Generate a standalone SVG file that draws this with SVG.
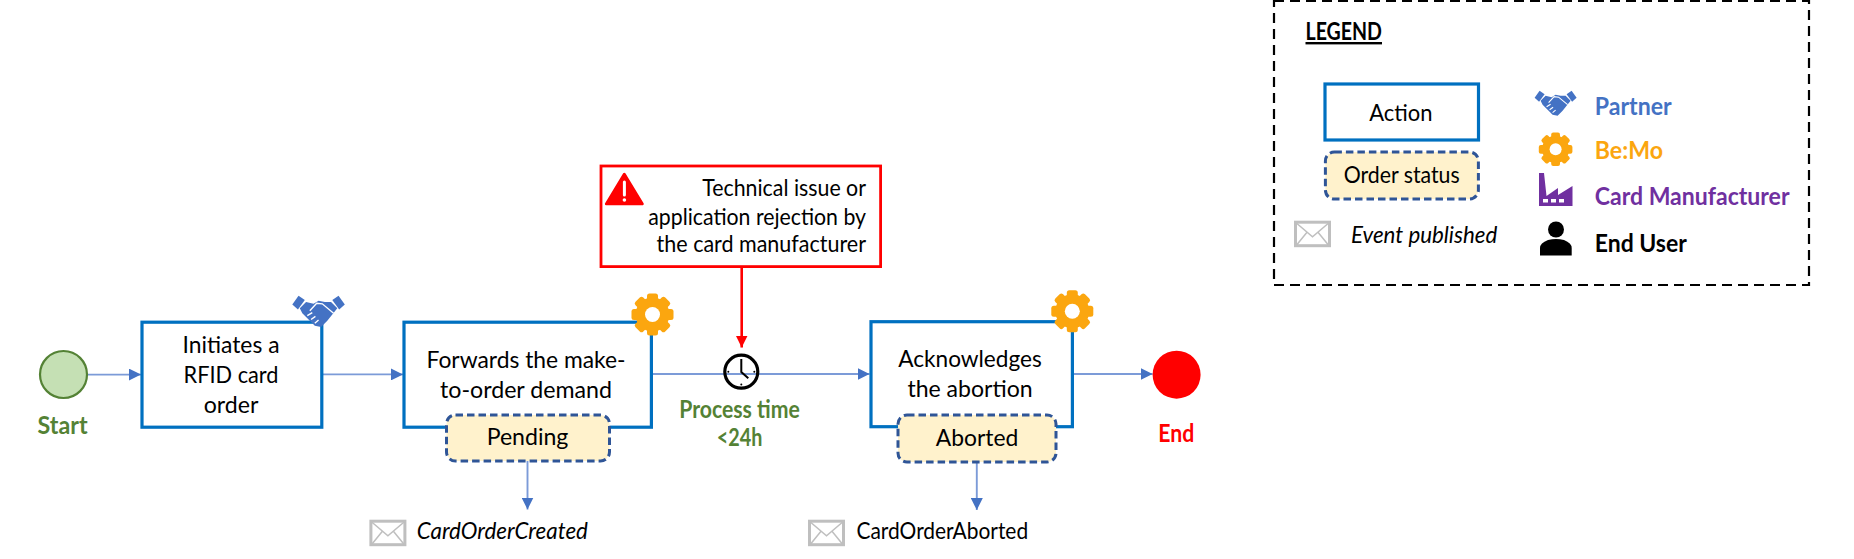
<svg xmlns="http://www.w3.org/2000/svg" width="1854" height="559" viewBox="0 0 1854 559">
<style>
text{font-family:"Lato","Open Sans","Liberation Sans",sans-serif;font-size:23px;fill:#000;transform:translateY(1px)}
.m{text-anchor:middle}
.r{text-anchor:end}
.b{font-weight:700;font-size:24px}
.i{font-style:italic}
.action{fill:#fff;stroke:#0070C0;stroke-width:3.2}
.status{fill:#FFF2CC;stroke:#2F5597;stroke-width:3;stroke-dasharray:7.5 4}
.flow{fill:none;stroke:#7C9BD8;stroke-width:1.9}
.green{fill:#548235}
</style>
<defs>
<marker id="ah" markerUnits="userSpaceOnUse" markerWidth="12" markerHeight="12" refX="12" refY="6" orient="auto"><path d="M0 0L12 6L0 12Z" fill="#4472C4"/></marker>
<marker id="ahr" markerUnits="userSpaceOnUse" markerWidth="12" markerHeight="12" refX="12" refY="6" orient="auto"><path d="M0 0L12 6L0 12Z" fill="#FF0000"/></marker>
<g id="gear"><g fill="#FBA60F"><circle r="17"/><rect x="-5.5" y="-21" width="11" height="42" rx="2.5"/><rect x="-5.5" y="-21" width="11" height="42" rx="2.5" transform="rotate(45)"/><rect x="-5.5" y="-21" width="11" height="42" rx="2.5" transform="rotate(90)"/><rect x="-5.5" y="-21" width="11" height="42" rx="2.5" transform="rotate(135)"/></g><circle r="7.5" fill="#fff"/></g>
<g id="env" fill="none" stroke="#BFBFBF"><rect x="1.5" y="1.5" width="34" height="23.5" stroke-width="3" fill="#fff"/><path d="M2 2L18.5 16L35 2M2 25L13 11.5M35 25L24 11.5" stroke-width="1.5"/></g>
<g id="shake"><g fill="#4472C4"><path d="M0 7L5 0L10 3.5L4.5 11Z"/><path d="M42 7L37 0L32 3.5L37.5 11Z"/><path d="M6 10L11 5L17 6.5L21 4L26 5L31 5L36 10L28 20L23 25L18 24L8 14Z"/></g><path d="M14 12L19.5 6L24 6.5L33 14M12 16L16 13.5M15 19L18.5 16.5M18 22L21 19.5" fill="none" stroke="#fff" stroke-width="1.1"/></g>
</defs>
<g id="connectors">
<path class="flow" d="M88 374.6H141" marker-end="url(#ah)"/>
<path class="flow" d="M323 374.4H403" marker-end="url(#ah)"/>
<path class="flow" d="M652 374H869.5" marker-end="url(#ah)"/>
<path class="flow" d="M1073 374H1152.6" marker-end="url(#ah)"/>
<path class="flow" d="M527.5 461V509.5" marker-end="url(#ah)"/>
<path class="flow" d="M976.8 462V510" marker-end="url(#ah)"/>
<path d="M741.7 267V347.5" fill="none" stroke="#FF0000" stroke-width="2.6" marker-end="url(#ahr)"/>
</g>
<g id="start"><circle cx="63.5" cy="374.5" r="23.5" fill="#C5E0B4" stroke="#548235" stroke-width="2.2"/><text class="m b green" x="62.6" y="433.3" textLength="50" lengthAdjust="spacingAndGlyphs">Start</text></g>
<g id="action-initiate"><rect class="action" x="142" y="322.2" width="179.8" height="105"/><text class="m" x="231" y="352" textLength="97" lengthAdjust="spacingAndGlyphs">Initiates a</text><text class="m" x="231" y="381.8" textLength="95" lengthAdjust="spacingAndGlyphs">RFID card</text><text class="m" x="231" y="411.7" textLength="54.7" lengthAdjust="spacingAndGlyphs">order</text><use href="#shake" transform="translate(292.3 295.7) scale(1.25)"/></g>
<g id="action-forward"><rect class="action" x="404" y="322.2" width="247.4" height="105"/><use href="#gear" x="652.5" y="314.5"/><text class="m" x="526" y="366.7" textLength="199" lengthAdjust="spacingAndGlyphs">Forwards the make-</text><text class="m" x="526" y="396.7" textLength="172" lengthAdjust="spacingAndGlyphs">to-order demand</text></g>
<g id="status-pending"><rect class="status" x="446.5" y="415" width="163" height="46" rx="9"/><text class="m" x="527.5" y="444.3" textLength="81.7" lengthAdjust="spacingAndGlyphs">Pending</text></g>
<g id="event-created"><use href="#env" x="369.4" y="519.7"/><text class="i" x="416.7" y="537.7" textLength="171.2" lengthAdjust="spacingAndGlyphs">CardOrderCreated</text></g>
<g id="issue"><rect x="601" y="166" width="279.6" height="100.6" fill="#fff" stroke="#FF0000" stroke-width="2.8"/><path d="M624.3 174L642.5 204H606.2Z" fill="#FF0000" stroke="#FF0000" stroke-width="2.6" stroke-linejoin="round"/><path d="M624.4 182V195" stroke="#fff" stroke-width="3" stroke-linecap="round"/><circle cx="624.4" cy="200" r="1.8" fill="#fff"/><text class="r" x="866" y="195.3" textLength="163.8" lengthAdjust="spacingAndGlyphs">Technical issue or</text><text class="r" x="866" y="223.7" textLength="217.7" lengthAdjust="spacingAndGlyphs">application rejection by</text><text class="r" x="866" y="250.7" textLength="209.4" lengthAdjust="spacingAndGlyphs">the card manufacturer</text></g>
<g id="timer"><circle cx="741.3" cy="371.7" r="16.5" fill="none" stroke="#000" stroke-width="3.2"/><path d="M741.3 359V372L748.3 378.3" fill="none" stroke="#000" stroke-width="2"/><g fill="#000"><circle cx="728.3" cy="371.7" r="1"/><circle cx="754.3" cy="371.7" r="1"/><circle cx="741.3" cy="384.5" r="1"/></g><text class="m b green" x="739.5" y="416.7" textLength="120.6" lengthAdjust="spacingAndGlyphs">Process time</text><text class="m b green" x="739.5" y="444.7" textLength="45.6" lengthAdjust="spacingAndGlyphs">&lt;24h</text></g>
<g id="action-ack"><rect class="action" x="871" y="321.7" width="201.4" height="105"/><use href="#gear" x="1072.3" y="311.3"/><text class="m" x="970" y="366" textLength="143.4" lengthAdjust="spacingAndGlyphs">Acknowledges</text><text class="m" x="970" y="396" textLength="125.2" lengthAdjust="spacingAndGlyphs">the abortion</text></g>
<g id="status-aborted"><rect class="status" x="898" y="415" width="158" height="47" rx="9"/><text class="m" x="977" y="444.7" textLength="82.5" lengthAdjust="spacingAndGlyphs">Aborted</text></g>
<g id="event-aborted"><use href="#env" x="808" y="519.7"/><text x="856.5" y="537.7" textLength="171.6" lengthAdjust="spacingAndGlyphs">CardOrderAborted</text></g>
<g id="end"><circle cx="1176.6" cy="374.7" r="24" fill="#FF0000"/><text class="m b" style="fill:#FF0000" x="1176.2" y="441" textLength="36" lengthAdjust="spacingAndGlyphs">End</text></g>
<g id="legend"><rect x="1274" y="1" width="535" height="284" fill="none" stroke="#000" stroke-width="2.2" stroke-dasharray="10 6"/><text class="b" x="1305.5" y="39" text-decoration="underline" textLength="76.5" lengthAdjust="spacingAndGlyphs">LEGEND</text>
<rect class="action" x="1325" y="84" width="153.5" height="56"/><text class="m" x="1400.9" y="120" textLength="63.3" lengthAdjust="spacingAndGlyphs">Action</text>
<rect class="status" x="1325.4" y="152" width="153" height="47" rx="9"/><text class="m" x="1401.7" y="182.3" textLength="116" lengthAdjust="spacingAndGlyphs">Order status</text>
<use href="#env" x="1294" y="220.7"/><text class="i" x="1351" y="242.3" textLength="146.2" lengthAdjust="spacingAndGlyphs">Event published</text>
<use href="#shake" x="1534.6" y="90.7"/><text class="b" style="fill:#4472C4" x="1594.8" y="114" textLength="76.9" lengthAdjust="spacingAndGlyphs">Partner</text>
<use href="#gear" transform="translate(1555.6 149.3) scale(.8)"/><text class="b" style="fill:#FBA60F" x="1594.8" y="157.7" textLength="68.2" lengthAdjust="spacingAndGlyphs">Be:Mo</text>
<path d="M1539 206V173H1544L1546.5 196L1558 188V195L1572.5 186V206Z" fill="#7030A0"/><path d="M1543 199h5v3.5h-5zM1551 199h5v3.5h-5zM1559 199h5v3.5h-5z" fill="#fff"/><text class="b" style="fill:#7030A0" x="1594.8" y="204.3" textLength="194.7" lengthAdjust="spacingAndGlyphs">Card Manufacturer</text>
<circle cx="1556" cy="229.5" r="8" fill="#000"/><path d="M1540 255.5V248Q1540 243 1548 240Q1556 238 1564 240Q1571.7 243 1571.7 248V255.5Z" fill="#000"/><text class="b" x="1594.8" y="251.3" textLength="92" lengthAdjust="spacingAndGlyphs">End User</text>
</g>
</svg>
